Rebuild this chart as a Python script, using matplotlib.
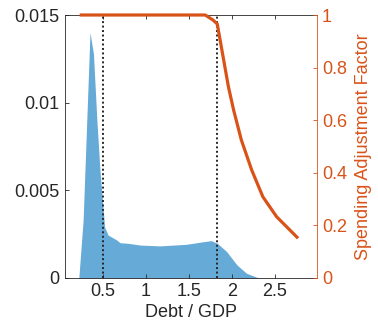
import matplotlib
matplotlib.use('Agg')
from matplotlib import pyplot as plt

plt.rcParams['font.family'] = ['Liberation Sans', 'DejaVu Sans']
plt.rcParams['font.size'] = 13

# Debt/GDP distribution (density)
debt_x = [0.22, 0.27, 0.35, 0.39, 0.43, 0.465, 0.50, 0.52, 0.56, 0.66, 0.70, 0.79,
          0.93, 1.16, 1.47, 1.67, 1.76, 1.83, 1.94, 2.06, 2.17, 2.29, 2.35]
density = [0.0, 0.0033, 0.0140, 0.0128, 0.0090, 0.0062, 0.0041, 0.0029, 0.00245,
           0.00217, 0.00201, 0.00198, 0.00188, 0.00183, 0.00192, 0.00207, 0.00213,
           0.00198, 0.0015, 0.00074, 0.00027, 0.00004, 0.0]

# Spending adjustment factor curve
adj_x = [0.23, 0.5, 1.0, 1.5, 1.69, 1.78, 1.83, 1.96, 2.02, 2.11, 2.23, 2.36, 2.52, 2.77]
adj_y = [1.0, 1.0, 1.0, 1.0, 1.0, 0.981, 0.966, 0.727, 0.639, 0.525, 0.411, 0.309, 0.233, 0.151]

thresholds = [0.5, 1.83]

x_ticks = [0.5, 1, 1.5, 2, 2.5]
x_labels = ['0.5', '1', '1.5', '2', '2.5']
left_ticks = [0, 0.005, 0.01, 0.015]
left_labels = ['0', '0.005', '0.01', '0.015']
right_ticks = [0, 0.2, 0.4, 0.6, 0.8, 1]
right_labels = ['0', '0.2', '0.4', '0.6', '0.8', '1']

blue = '#66AAD7'
orange = '#D95319'
dark = '#262626'

fig = plt.figure(figsize=(3.78, 3.32), dpi=100)
ax = fig.add_axes([0.171, 0.1627, 0.6676, 0.7921])

ax.fill_between(debt_x, density, 0, color=blue, linewidth=0)
for t in thresholds:
    ax.axvline(t, color=dark, linestyle=(0, (1, 1.3)), linewidth=1.4)

ax.set_xlim(0.055, 2.99)
ax.set_ylim(0, 0.015)
ax.set_xticks(x_ticks)
ax.set_xticklabels(x_labels)
ax.set_yticks(left_ticks)
ax.set_yticklabels(left_labels)
ax.set_xlabel('Debt / GDP', color=dark, labelpad=3)
ax.tick_params(axis='both', direction='in', length=3, width=0.6, colors=dark,
               top=True, labelsize=13)
for s in ['left', 'bottom', 'top']:
    ax.spines[s].set_color(dark)
    ax.spines[s].set_linewidth(0.6)
ax.spines['right'].set_visible(False)

ax2 = ax.twinx()
ax2.plot(adj_x, adj_y, color=orange, linewidth=2.3, solid_capstyle='butt', clip_on=False)
ax2.set_ylim(0, 1)
ax2.set_yticks(right_ticks)
ax2.set_yticklabels(right_labels)
ax2.set_ylabel('Spending Adjustment Factor', color=orange, labelpad=6)
ax2.tick_params(axis='y', direction='in', length=3, width=0.6, colors=orange, labelsize=13)
for s in ['left', 'bottom', 'top']:
    ax2.spines[s].set_visible(False)
ax2.spines['right'].set_color(orange)
ax2.spines['right'].set_linewidth(0.6)

fig.savefig('out.png', dpi=100)
